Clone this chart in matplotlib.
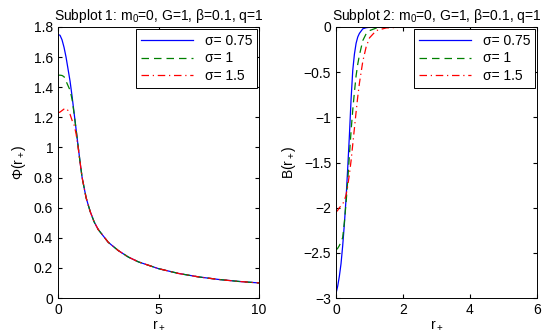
import matplotlib
matplotlib.use("Agg")
import matplotlib.pyplot as plt

plt.rcParams['font.family'] = ['Liberation Sans', 'DejaVu Sans']
plt.rcParams['mathtext.fontset'] = 'custom'
plt.rcParams['mathtext.rm'] = 'Liberation Sans'
plt.rcParams['mathtext.it'] = 'Liberation Sans'

# data
sigma_labels = ['σ= 0.75', 'σ= 1', 'σ= 1.5']

r_phi = [0, 0.1, 0.2, 0.3, 0.4, 0.5, 0.6, 0.7, 0.8, 0.9, 1.0, 1.1, 1.2, 1.4,
         1.6, 1.8, 2.0, 2.5, 3, 3.5, 4, 5, 6, 7, 8, 9, 10]
phi_075 = [1.75, 1.745, 1.715, 1.665, 1.60, 1.52, 1.44, 1.34, 1.23, 1.12, 1.01,
           0.90, 0.80, 0.665, 0.575, 0.505, 0.455, 0.37, 0.315, 0.272, 0.24,
           0.195, 0.163, 0.14, 0.123, 0.11, 0.1]
phi_1 = [1.48, 1.48, 1.478, 1.47, 1.44, 1.41, 1.38, 1.32, 1.225, 1.12, 1.01,
         0.90, 0.80, 0.665, 0.575, 0.505, 0.455, 0.37, 0.315, 0.272, 0.24,
         0.195, 0.163, 0.14, 0.123, 0.11, 0.1]
phi_15 = [1.23, 1.235, 1.245, 1.255, 1.26, 1.245, 1.22, 1.18, 1.15, 1.09, 1.0,
          0.90, 0.80, 0.665, 0.575, 0.505, 0.455, 0.37, 0.315, 0.272, 0.24,
          0.195, 0.163, 0.14, 0.123, 0.11, 0.1]

r_b = [0, 0.05, 0.1, 0.15, 0.2, 0.25, 0.3, 0.35, 0.4, 0.45, 0.5, 0.55, 0.6,
       0.65, 0.7, 0.8, 0.9, 1.0, 1.2, 1.5, 2, 3, 4, 6]
b_075 = [-2.95, -2.87, -2.76, -2.62, -2.42, -2.18, -1.9, -1.56, -1.2, -0.8,
         -0.48, -0.3, -0.18, -0.11, -0.07, -0.02, -0.008, -0.003, -0.001, 0, 0,
         0, 0, 0]
b_1 = [-2.47, -2.45, -2.42, -2.38, -2.33, -2.16, -1.95, -1.7, -1.42, -1.15,
       -0.92, -0.72, -0.54, -0.41, -0.31, -0.15, -0.075, -0.04, -0.012, -0.003,
       0, 0, 0, 0]
b_15 = [-2.05, -2.03, -2.0, -1.98, -1.96, -1.92, -1.86, -1.76, -1.63, -1.48,
        -1.3, -1.12, -0.94, -0.77, -0.62, -0.38, -0.22, -0.12, -0.04, -0.01,
        -0.002, 0, 0, 0]

colors = [(0, 0, 1), (0, 0.5, 0), (1, 0, 0)]
styles = ['-', (0, (6, 4)), (0, (6, 3, 1, 3))]

fig = plt.figure(figsize=(5.5, 3.33), dpi=100)
ax1 = fig.add_axes([58/550, 35/333, 201/550, 271/333])
ax2 = fig.add_axes([336/550, 35/333, 201/550, 271/333])

for ys, c, ls, lab in zip([phi_075, phi_1, phi_15], colors, styles, sigma_labels):
    ax1.plot(r_phi, ys, color=c, linestyle=ls, linewidth=0.9, label=lab)
for ys, c, ls, lab in zip([b_075, b_1, b_15], colors, styles, sigma_labels):
    ax2.plot(r_b, ys, color=c, linestyle=ls, linewidth=0.9, label=lab)

fs = 10

ax1.set_xlim(0, 10)
ax1.set_ylim(0, 1.8)
ax1.set_xticks([0, 5, 10])
ax1.set_yticks([0, 0.2, 0.4, 0.6, 0.8, 1, 1.2, 1.4, 1.6, 1.8])
ax1.set_yticklabels(['0', '0.2', '0.4', '0.6', '0.8', '1', '1.2', '1.4', '1.6', '1.8'])
ax1.set_xlabel('r$_+$', fontsize=fs, labelpad=1)
ax1.set_ylabel('Φ(r$_+$)', fontsize=fs, labelpad=4)
ax1.set_title('Subplot 1: m$_0$=0, G=1, β=0.1, q=1', fontsize=fs, pad=5)

ax2.set_xlim(0, 6)
ax2.set_ylim(-3, 0)
ax2.set_xticks([0, 2, 4, 6])
ax2.set_yticks([-3, -2.5, -2, -1.5, -1, -0.5, 0])
ax2.set_yticklabels(['−3', '−2.5', '−2', '−1.5', '−1', '−0.5', '0'])
ax2.set_xlabel('r$_+$', fontsize=fs, labelpad=1)
ax2.set_ylabel('B(r$_+$)', fontsize=fs, labelpad=4)
ax2.set_title('Subplot 2: m$_0$=0, G=1, β=0.1, q=1', fontsize=fs, pad=5)

for ax in (ax1, ax2):
    ax.tick_params(direction='in', top=True, right=True, length=3, labelsize=fs)
    for s in ax.spines.values():
        s.set_linewidth(0.7)
    leg = ax.legend(loc='upper right', fontsize=fs, handlelength=3.8,
                    fancybox=False, framealpha=1, borderaxespad=0.15,
                    labelspacing=0.25, handletextpad=0.8, borderpad=0.35)
    leg.get_frame().set_edgecolor('black')
    leg.get_frame().set_linewidth(0.7)

fig.savefig('out.png', dpi=100)
